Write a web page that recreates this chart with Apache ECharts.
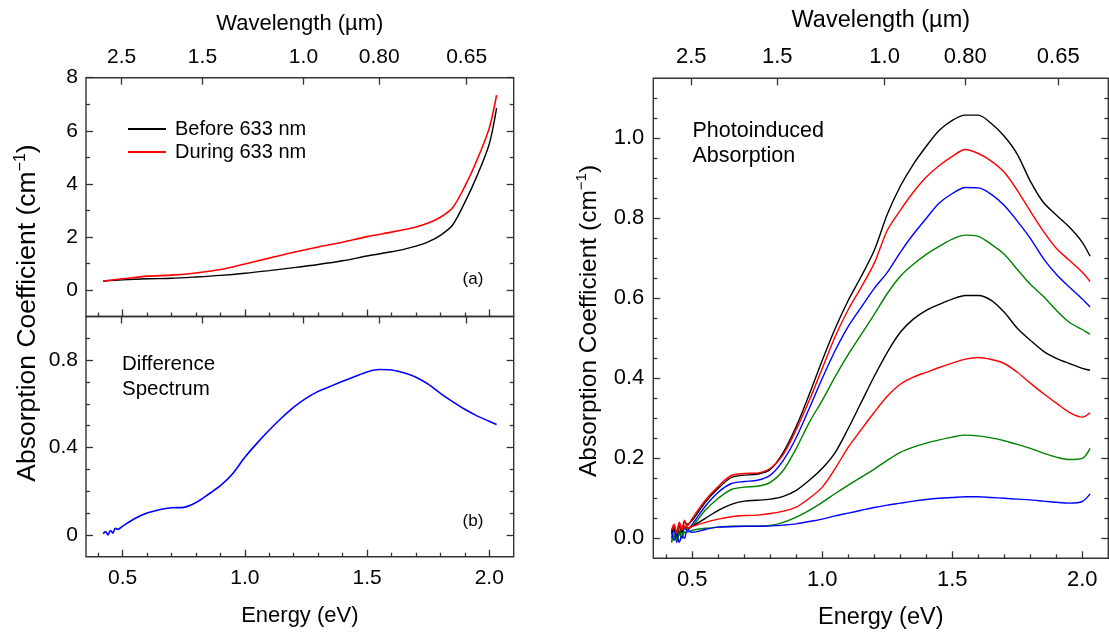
<!DOCTYPE html>
<html>
<head>
<meta charset="utf-8">
<script src="https://cdn.jsdelivr.net/npm/echarts@6/dist/echarts.min.js"></script>
<style>
html,body{margin:0;padding:0;background:#fff;}
#main{width:1109px;height:635px;}
</style>
</head>
<body>
<div id="main"></div>
<script>
var FONT='Liberation Sans, Arial, Helvetica, sans-serif';
var AX='#333';

// wavelength ticks on the top axes (µm), placed at E = 1.2398 / lambda
var wlVals=[2.5,1.5,1.0,0.80,0.65];
var wlLabels=['2.5','1.5','1.0','0.80','0.65'];

// tick positions
var eMajor=[0.5,1.0,1.5,2.0];
var eMinor=[0.4,0.6,0.7,0.8,0.9,1.1,1.2,1.3,1.4,1.6,1.7,1.8,1.9];
var aMajor=[0,2,4,6,8];
var aMinor=[1,3,5,7];
var bMajor=[0,0.4,0.8];
var bMinor=[0.1,0.2,0.3,0.5,0.6,0.7,0.9];
var cMajor=[0,0.2,0.4,0.6,0.8,1.0];
var cMinor=[0.05,0.1,0.15,0.25,0.3,0.35,0.45,0.5,0.55,0.65,0.7,0.75,0.85,0.9,0.95,1.05,1.1];

// (a) absorption before / during 633 nm
var energyA=[0.42,0.5,0.6,0.7,0.8,0.9,1.0,1.1,1.2,1.3,1.4,1.5,1.6,1.65,1.7,1.75,1.8,1.85,1.9,1.95,2.0,2.03];
var before=[0.33,0.38,0.42,0.44,0.49,0.55,0.63,0.73,0.84,0.96,1.1,1.28,1.44,1.53,1.65,1.81,2.06,2.45,3.3,4.3,5.5,6.85];
var during=[0.34,0.42,0.52,0.56,0.64,0.77,0.98,1.2,1.42,1.62,1.8,2.01,2.18,2.27,2.37,2.52,2.74,3.1,3.9,4.9,6.1,7.34];

// (b) difference spectrum and right panel share this energy grid
var energy=[0.42,0.43,0.44,0.45,0.46,0.47,0.48,0.5,0.55,0.6,0.65,0.7,0.75,0.8,0.85,0.9,0.95,1.0,1.05,1.1,1.15,1.2,1.25,1.3,1.35,1.4,1.45,1.5,1.55,1.6,1.65,1.7,1.75,1.8,1.85,1.9,1.95,2.0,2.03];
var diff=[0.005,0.015,0.0,0.02,0.008,0.03,0.025,0.04,0.075,0.1,0.115,0.124,0.126,0.148,0.185,0.225,0.28,0.355,0.42,0.48,0.535,0.585,0.625,0.657,0.68,0.703,0.725,0.746,0.757,0.755,0.742,0.722,0.69,0.648,0.61,0.575,0.545,0.52,0.505];

// photoinduced absorption, top to bottom
var pia1=[0.015,0.03,0.01,0.035,0.02,0.04,0.035,0.045,0.09,0.125,0.152,0.158,0.16,0.172,0.215,0.28,0.36,0.445,0.525,0.595,0.655,0.72,0.81,0.88,0.935,0.98,1.02,1.045,1.058,1.058,1.037,1.005,0.96,0.893,0.84,0.808,0.778,0.74,0.705];
var pia2=[0.02,0.035,0.015,0.04,0.025,0.045,0.03,0.05,0.095,0.13,0.157,0.162,0.163,0.175,0.21,0.272,0.345,0.425,0.505,0.572,0.628,0.688,0.77,0.82,0.865,0.903,0.932,0.955,0.972,0.962,0.943,0.915,0.87,0.818,0.768,0.725,0.695,0.665,0.642];
var pia3=[0.0,0.02,-0.01,0.015,0.0,0.025,0.02,0.035,0.08,0.115,0.137,0.142,0.145,0.158,0.195,0.252,0.325,0.4,0.47,0.53,0.578,0.625,0.665,0.715,0.76,0.8,0.838,0.862,0.877,0.876,0.86,0.832,0.793,0.75,0.70,0.66,0.628,0.598,0.578];
var pia4=[-0.01,0.01,0.0,0.02,0.01,0.025,0.025,0.03,0.07,0.1,0.122,0.128,0.13,0.14,0.17,0.225,0.29,0.345,0.405,0.46,0.51,0.56,0.612,0.655,0.685,0.71,0.73,0.748,0.758,0.755,0.735,0.71,0.672,0.635,0.605,0.57,0.54,0.522,0.51];
var pia5=[0.01,0.025,0.005,0.03,0.015,0.03,0.025,0.03,0.05,0.07,0.085,0.093,0.095,0.098,0.105,0.12,0.145,0.175,0.215,0.275,0.34,0.405,0.465,0.515,0.548,0.57,0.585,0.598,0.607,0.607,0.595,0.565,0.525,0.495,0.468,0.45,0.437,0.425,0.42];
var pia6=[0.02,0.03,0.01,0.035,0.02,0.03,0.025,0.03,0.04,0.048,0.054,0.057,0.058,0.062,0.068,0.078,0.1,0.128,0.175,0.228,0.272,0.315,0.355,0.385,0.403,0.415,0.427,0.438,0.448,0.452,0.447,0.437,0.415,0.388,0.362,0.338,0.315,0.303,0.314];
var pia7=[-0.01,0.005,-0.005,0.01,0.0,0.015,0.015,0.02,0.025,0.028,0.03,0.03,0.03,0.032,0.04,0.053,0.07,0.09,0.112,0.133,0.153,0.173,0.195,0.215,0.228,0.238,0.246,0.253,0.258,0.256,0.251,0.244,0.235,0.225,0.213,0.203,0.197,0.2,0.225];
var pia8=[0.02,-0.005,0.01,-0.01,0.005,0.0,0.02,0.015,0.022,0.028,0.029,0.03,0.03,0.031,0.033,0.036,0.042,0.048,0.056,0.063,0.07,0.077,0.083,0.088,0.093,0.097,0.1,0.102,0.104,0.104,0.102,0.1,0.098,0.096,0.093,0.09,0.088,0.092,0.111];
var piaColors=['#000000','#ff0000','#0000ff','#008000','#000000','#ff0000','#008000','#0000ff'];

var wlE=wlVals.map(function(l){return 1.2398/l;});
function wlFmt(v){
  for(var i=0;i<wlE.length;i++){ if(Math.abs(wlE[i]-v)<1e-3) return wlLabels[i]; }
  return '';
}
function eFmt(v){ return v.toFixed(1); }

function axis(grid,pos,min,max,vals,len,lab){
  var a={
    type:'value',gridIndex:grid,position:pos,min:min,max:max,
    axisLine:{show:false,onZero:false},
    splitLine:{show:false},
    axisTick:{show:true,inside:true,length:len,customValues:vals,lineStyle:{color:AX,width:1.3}},
    axisLabel:{show:false},
    nameMoveOverlap:false
  };
  if(lab){
    a.axisLabel={show:true,customValues:lab.values||vals,formatter:lab.fmt,color:'#000',
      fontSize:lab.size,margin:lab.margin,fontFamily:FONT};
    if(lab.name){
      a.name=lab.name;a.nameLocation='middle';a.nameGap=lab.gap;
      a.nameTextStyle={fontSize:lab.nameSize,color:'#000',fontFamily:FONT};
    }
  }
  return a;
}

var E0=0.35,E1=2.1;
var xAxes=[
  axis(0,'top',E0,E1,wlE,7,{fmt:wlFmt,size:21,margin:10,name:'Wavelength (µm)',gap:43,nameSize:22}),
  axis(0,'bottom',E0,E1,eMajor,7),
  axis(0,'bottom',E0,E1,eMinor,4),
  axis(1,'top',E0,E1,wlE,7),
  axis(1,'bottom',E0,E1,eMajor,7,{fmt:eFmt,size:21,margin:11,name:'Energy (eV)',gap:48,nameSize:22}),
  axis(1,'bottom',E0,E1,eMinor,4),
  axis(2,'top',E0,E1,wlE,7,{fmt:wlFmt,size:22,margin:10,name:'Wavelength (µm)',gap:46,nameSize:23.5}),
  axis(2,'bottom',E0,E1,eMajor,7,{fmt:eFmt,size:22,margin:11,name:'Energy (eV)',gap:47,nameSize:23.5}),
  axis(2,'bottom',E0,E1,eMinor,4)
];
var yAxes=[
  axis(0,'left',-1,8,aMajor,7,{fmt:function(v){return String(v);},size:21,margin:8}),
  axis(0,'left',-1,8,aMinor,4),
  axis(0,'right',-1,8,aMajor,7),
  axis(0,'right',-1,8,aMinor,4),
  axis(1,'left',-0.1,1.0,bMajor,7,{fmt:function(v){return String(v);},size:21,margin:8}),
  axis(1,'left',-0.1,1.0,bMinor,4),
  axis(1,'right',-0.1,1.0,bMajor,7),
  axis(1,'right',-0.1,1.0,bMinor,4),
  axis(2,'left',-0.05,1.15,cMajor,7,{fmt:function(v){return v.toFixed(1);},size:22,margin:9}),
  axis(2,'left',-0.05,1.15,cMinor,4),
  axis(2,'right',-0.05,1.15,cMajor,7),
  axis(2,'right',-0.05,1.15,cMinor,4)
];

function pairs(xs,ys){ return xs.map(function(x,i){return [x,ys[i]];}); }
function line(name,xi,yi,xs,ys,color,w){
  return {name:name,type:'line',xAxisIndex:xi,yAxisIndex:yi,data:pairs(xs,ys),
    symbol:'none',showSymbol:false,smooth:0.3,silent:true,
    lineStyle:{color:color,width:w||1.4},itemStyle:{color:color}};
}

var series=[
  line('Before 633 nm',1,0,energyA,before,'#000000',1.4),
  line('During 633 nm',1,0,energyA,during,'#ff0000',1.6),
  line('Difference',4,4,energy,diff,'#0000ff',1.6)
];
[pia1,pia2,pia3,pia4,pia5,pia6,pia7,pia8].forEach(function(d,i){
  series.push(line('pia'+(i+1),7,8,energy,d,piaColors[i],1.4));
});

var grid={show:true,borderColor:AX,borderWidth:1.4,backgroundColor:'transparent',containLabel:false,outerBoundsMode:'none'};
function g(o){ return Object.assign({},grid,o); }

var yTitle='{a|Absorption Coefficient (cm}{s|−1}{a|)}';
function yRich(size){
  return {a:{fontSize:size,fontFamily:FONT,fill:'#000',lineHeight:size+4},
          s:{fontSize:Math.round(size*0.62),fontFamily:FONT,fill:'#000',verticalAlign:'top',lineHeight:size*0.62}};
}

var option={
  animation:false,
  textStyle:{fontFamily:FONT},
  grid:[
    g({left:86,top:77.7,width:427.7,height:238.8}),
    g({left:86,top:316.5,width:427.7,height:240.2}),
    g({left:653.3,top:78.3,width:455,height:480})
  ],
  xAxis:xAxes,
  yAxis:yAxes,
  legend:{
    data:['Before 633 nm','During 633 nm'],
    orient:'vertical',left:122,top:114,
    itemWidth:38,itemHeight:14,itemGap:3,
    itemStyle:{opacity:0},
    textStyle:{fontSize:20,color:'#000',fontFamily:FONT,padding:[0,0,0,4]},
    selectedMode:false
  },
  graphic:[
    {type:'text',x:28,y:313,rotation:Math.PI/2,
      style:{text:yTitle,rich:yRich(26.5),align:'center',verticalAlign:'middle'}},
    {type:'text',x:589,y:321,rotation:Math.PI/2,
      style:{text:yTitle,rich:yRich(24.5),align:'center',verticalAlign:'middle'}},
    {type:'text',x:473,y:279,style:{text:'(a)',fontSize:17,fontFamily:FONT,fill:'#000',align:'center',verticalAlign:'middle'}},
    {type:'text',x:473,y:521,style:{text:'(b)',fontSize:17,fontFamily:FONT,fill:'#000',align:'center',verticalAlign:'middle'}},
    {type:'text',x:122,y:377,style:{text:'Difference\nSpectrum',fontSize:20.5,lineHeight:24.5,fontFamily:FONT,fill:'#000',align:'left',verticalAlign:'middle'}},
    {type:'text',x:692.5,y:144,style:{text:'Photoinduced\nAbsorption',fontSize:21.5,lineHeight:25,fontFamily:FONT,fill:'#000',align:'left',verticalAlign:'middle'}}
  ],
  series:series
};

var myChart=echarts.init(document.getElementById('main'));
myChart.setOption(option);
</script>
</body>
</html>
